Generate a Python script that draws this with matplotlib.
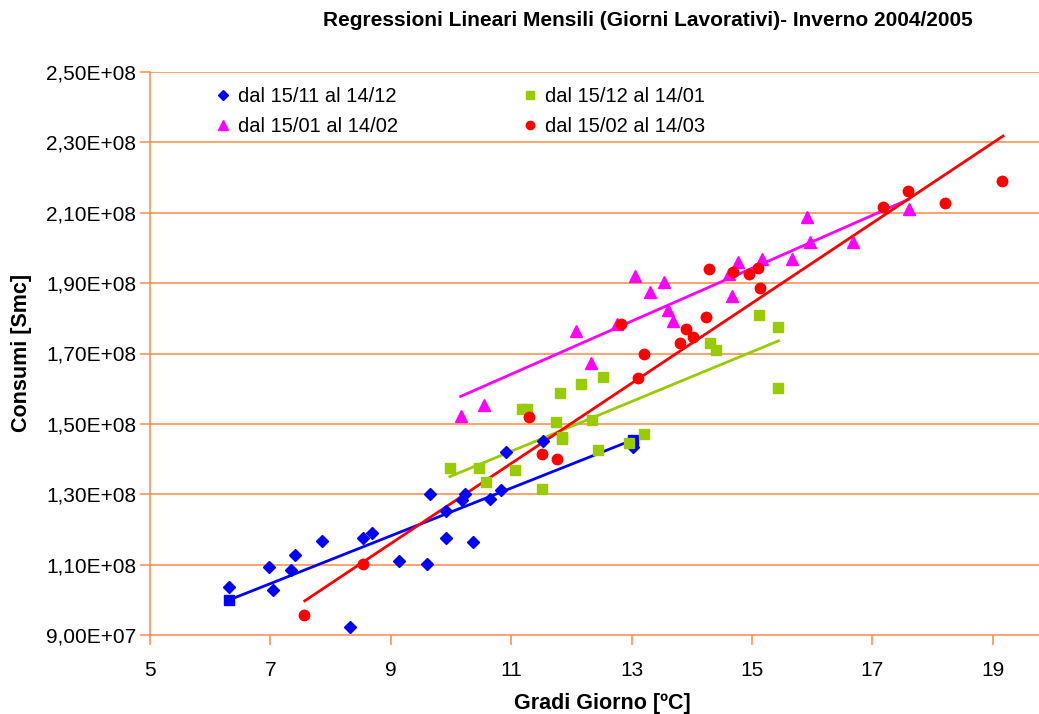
import matplotlib
matplotlib.use("Agg")
import matplotlib.pyplot as plt
from matplotlib.ticker import FuncFormatter

plt.rcParams['font.family'] = ['Liberation Sans', 'DejaVu Sans']

# dal 15/11 al 14/12 (rombi blu)
nov_x = [6.32, 6.98, 7.04, 7.35, 7.41, 7.86, 8.53, 8.69, 8.32, 9.14, 9.60, 9.65,
         9.91, 9.92, 10.18, 10.23, 10.37, 10.65, 10.83, 10.91, 11.53, 13.02]
nov_y = [1.036e8, 1.092e8, 1.028e8, 1.084e8, 1.128e8, 1.168e8, 1.175e8, 1.191e8,
         9.24e7, 1.111e8, 1.103e8, 1.302e8, 1.251e8, 1.175e8, 1.283e8, 1.300e8,
         1.163e8, 1.287e8, 1.311e8, 1.420e8, 1.451e8, 1.4355e8]

# dal 15/12 al 14/01 (quadrati verdi)
dic_x = [9.98, 10.46, 10.58, 11.07, 11.51, 11.18, 11.26, 11.74, 11.81, 11.85, 11.84,
         12.16, 12.35, 12.44, 12.53, 12.95, 13.21, 14.30, 14.41, 15.12, 15.44, 15.44]
dic_y = [1.374e8, 1.375e8, 1.334e8, 1.370e8, 1.314e8, 1.542e8, 1.542e8, 1.506e8,
         1.589e8, 1.464e8, 1.457e8, 1.614e8, 1.511e8, 1.426e8, 1.6335e8, 1.447e8,
         1.471e8, 1.729e8, 1.709e8, 1.809e8, 1.776e8, 1.601e8]

# dal 15/01 al 14/02 (triangoli magenta)
gen_x = [10.16, 10.55, 12.07, 12.33, 12.75, 13.05, 13.30, 13.54, 13.60, 13.68, 14.67,
         14.61, 14.77, 15.16, 15.67, 15.91, 15.96, 16.67, 17.60]
gen_y = [1.523e8, 1.553e8, 1.765e8, 1.674e8, 1.783e8, 1.920e8, 1.876e8, 1.904e8,
         1.824e8, 1.792e8, 1.864e8, 1.926e8, 1.961e8, 1.969e8, 1.969e8, 2.089e8,
         2.016e8, 2.018e8, 2.110e8]

# dal 15/02 al 14/03 (cerchi rossi)
feb_x = [7.56, 8.53, 11.30, 11.51, 11.76, 12.83, 13.11, 13.21, 13.81, 13.91, 14.02,
         14.24, 14.28, 14.69, 14.95, 15.10, 15.14, 17.17, 17.59, 18.21, 19.16]
feb_y = [9.565e7, 1.103e8, 1.519e8, 1.415e8, 1.400e8, 1.784e8, 1.629e8, 1.698e8,
         1.729e8, 1.769e8, 1.746e8, 1.805e8, 1.940e8, 1.932e8, 1.927e8, 1.944e8,
         1.885e8, 2.116e8, 2.163e8, 2.128e8, 2.191e8]

# rette di regressione (estremi)
nov_lx, nov_ly = [6.32, 13.02], [1.000e8, 1.4545e8]
dic_lx, dic_ly = [9.98, 15.44], [1.350e8, 1.736e8]
gen_lx, gen_ly = [10.16, 17.60], [1.578e8, 2.138e8]
feb_lx, feb_ly = [7.57, 19.17], [9.97e7, 2.318e8]

labels = ["dal 15/11 al 14/12", "dal 15/12 al 14/01",
          "dal 15/01 al 14/02", "dal 15/02 al 14/03"]
x_ticks = [5, 7, 9, 11, 13, 15, 17, 19]
y_ticks = [9e7, 1.1e8, 1.3e8, 1.5e8, 1.7e8, 1.9e8, 2.1e8, 2.3e8, 2.5e8]

BLUE, GREEN, MAGENTA, RED = '#0000FF', '#99CC00', '#FF00FF', '#FF0000'
ORANGE = '#F98A4A'

fig = plt.figure(figsize=(10.39, 7.14), dpi=100)
ax = fig.add_axes([150 / 1039, 1 - 635 / 714, 1 - 150 / 1039, (635 - 72) / 714])

for y in y_ticks[1:]:
    ax.axhline(y, color=ORANGE, lw=1.1, zorder=0)

# linee di tendenza
ax.plot(nov_lx, nov_ly, color=BLUE, lw=2, marker='s', ms=7, zorder=2)
ax.plot(dic_lx, dic_ly, color=GREEN, lw=2, zorder=2)
ax.plot(gen_lx, gen_ly, color=MAGENTA, lw=2, zorder=2)
ax.plot(feb_lx, feb_ly, color=RED, lw=2, zorder=2)

h1, = ax.plot(nov_x, nov_y, ls='none', marker='D', ms=6, color=BLUE, zorder=3)
h2, = ax.plot(dic_x, dic_y, ls='none', marker='s', ms=7.5, color=GREEN, zorder=3)
h3, = ax.plot(gen_x, gen_y, ls='none', marker='^', ms=8.5, color=MAGENTA, zorder=3)
h4, = ax.plot(feb_x, feb_y, ls='none', marker='o', ms=7.5, color=RED, zorder=3)

ax.set_xlim(5, 5 + (1039 - 150) / 60.2)
ax.set_ylim(9e7, 2.5e8)
ax.set_xticks(x_ticks)
ax.set_yticks(y_ticks)
ax.yaxis.set_major_formatter(FuncFormatter(lambda v, p: f"{v:.2E}".replace('.', ',')))
ax.tick_params(axis='both', colors=ORANGE, labelcolor='black', labelsize=15,
               length=7, width=1.1, direction='out')
ax.tick_params(axis='x', pad=12)
ax.tick_params(axis='y', pad=3)
for s in ['top', 'right']:
    ax.spines[s].set_visible(False)
for s in ['left', 'bottom']:
    ax.spines[s].set_color(ORANGE)
    ax.spines[s].set_linewidth(1.1)

leg = ax.legend([h1, h3, h2, h4], [labels[0], labels[2], labels[1], labels[3]],
                ncol=2, frameon=False, fontsize=14.5, loc='upper left',
                bbox_to_anchor=(0.055, 1.005), handlelength=0.6, handletextpad=0.45,
                columnspacing=6.25, labelspacing=0.55, markerscale=0.8)

fig.text(0.6237, 0.971, "Regressioni Lineari Mensili (Giorni Lavorativi)- Inverno 2004/2005",
         ha='center', va='center', fontsize=15, fontweight='bold')
fig.text(0.021, 0.5056, "Consumi [Smc]", rotation=90, ha='center', va='center',
         fontsize=15.5, fontweight='bold')
fig.text(0.58, 0.0154, "Gradi Giorno [ºC]", ha='center', va='center',
         fontsize=15.5, fontweight='bold')

fig.savefig("out.png", dpi=100)
